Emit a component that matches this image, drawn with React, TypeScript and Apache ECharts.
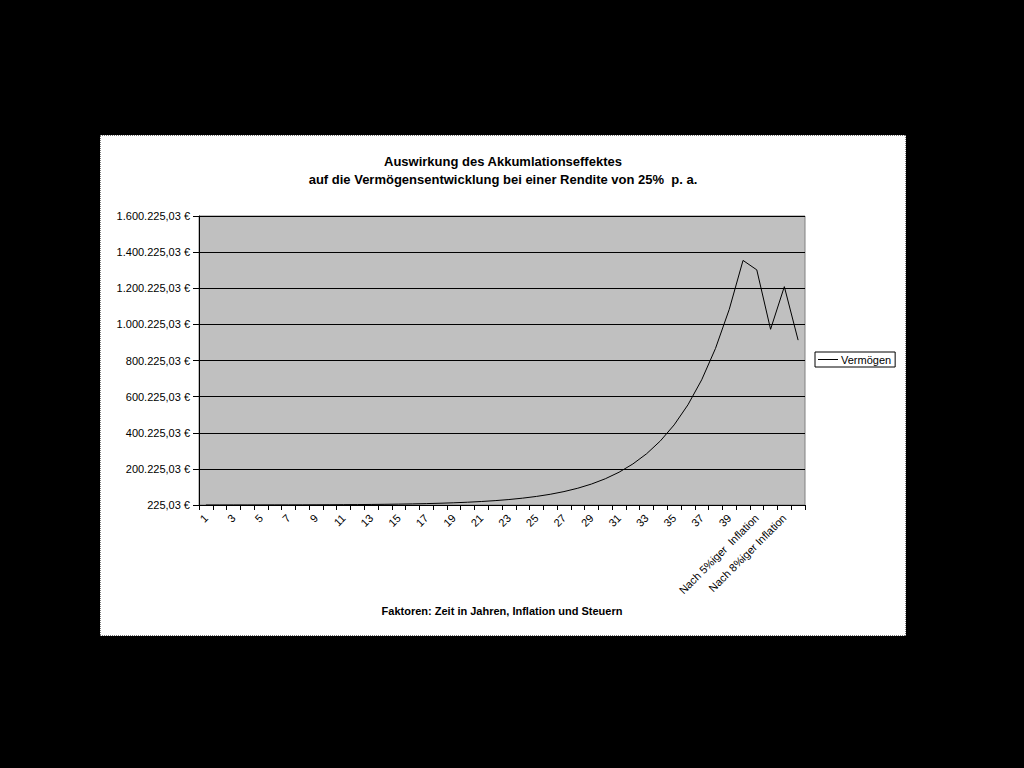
import React, { useEffect, useRef } from "react";
import * as echarts from "echarts";

const categories: string[] = [
  "1", "2", "3", "4", "5", "6", "7", "8", "9", "10",
  "11", "12", "13", "14", "15", "16", "17", "18", "19", "20",
  "21", "22", "23", "24", "25", "26", "27", "28", "29", "30",
  "31", "32", "33", "34", "35", "36", "37", "38", "39", "40",
  "Nach 5%iger  Inflation", "Nach Steuern (5%)", "Nach 8%iger Inflation", "Nach Steuern (8%)",
];

const vermoegen: number[] = [
  225.03, 281.29, 351.61, 439.51, 549.39, 686.74, 858.42, 1073.03, 1341.28, 1676.6,
  2095.75, 2619.69, 3274.61, 4093.26, 5116.58, 6395.72, 7994.65, 9993.32, 12491.65, 15614.56,
  19518.2, 24397.75, 30497.19, 38121.49, 47651.86, 59564.83, 74456.04, 93070.05, 116337.56, 145421.95,
  181777.44, 227221.8, 284027.25, 355034.06, 443792.58, 554740.72, 693425.9, 866782.38, 1083477.97, 1354347.46,
  1302000, 973000, 1209000, 913000,
];

const yMin = 225.03;
const yMax = 1600225.03;
const yStep = 200000;

function fmtEuro(v: number): string {
  const s = (Math.round(v * 100) / 100).toFixed(2);
  const [intPart, dec] = s.split(".");
  const withDots = intPart.replace(/\B(?=(\d{3})+(?!\d))/g, ".");
  return withDots + "," + dec + " €";
}

export default function App() {
  const ref = useRef<HTMLDivElement>(null);
  useEffect(() => {
    if (!ref.current) return;
    const chart = echarts.init(ref.current, undefined, { renderer: "svg" });
    const font = "'Liberation Sans', Arial, sans-serif";
    chart.setOption({
      animation: false,
      backgroundColor: "#000000",
      textStyle: { fontFamily: font },
      graphic: [
        {
          type: "rect",
          shape: { x: 100, y: 135, width: 806, height: 501 },
          style: { fill: "#ffffff", stroke: "#000000", lineWidth: 1, lineDash: [1, 1] },
          z: -10,
        },
        {
          type: "text",
          style: {
            text: "Auswirkung des Akkumlationseffektes\nauf die Vermögensentwicklung bei einer Rendite von 25%  p. a.",
            x: 503,
            y: 152,
            align: "center",
            verticalAlign: "top",
            font: "bold 13px 'Liberation Sans', Arial, sans-serif",
            lineHeight: 18,
            fill: "#000000",
          },
        },
        {
          type: "text",
          style: {
            text: "Faktoren: Zeit in Jahren, Inflation und Steuern",
            x: 502,
            y: 605,
            align: "center",
            verticalAlign: "top",
            font: "bold 11px 'Liberation Sans', Arial, sans-serif",
            fill: "#000000",
          },
        },
      ],
      legend: {
        show: true,
        left: 815,
        top: 352,
        orient: "vertical",
        backgroundColor: "#ffffff",
        borderColor: "#000000",
        borderWidth: 1,
        padding: [2, 4, 2, 3],
        itemWidth: 20,
        itemHeight: 1,
        itemGap: 2,
        icon: "rect",
        textStyle: { fontSize: 11, color: "#000000", fontFamily: font, padding: [0, 0, 0, -2] },
        data: ["Vermögen"],
      },
      grid: {
        left: 199,
        right: 219,
        top: 216,
        bottom: 263,
        show: true,
        backgroundColor: "#c0c0c0",
        borderColor: "#808080",
        borderWidth: 1,
      },
      xAxis: {
        type: "category",
        data: categories,
        boundaryGap: true,
        axisLine: { show: true, lineStyle: { color: "#000000", width: 1 } },
        axisTick: { show: true, length: 5, interval: 0, lineStyle: { color: "#000000" } },
        axisLabel: {
          interval: 1,
          rotate: 45,
          fontSize: 11,
          color: "#000000",
          fontFamily: font,
          margin: 11,
        },
        splitLine: { show: false },
      },
      yAxis: {
        type: "value",
        min: yMin,
        max: yMax,
        interval: yStep,
        axisLine: { show: true, lineStyle: { color: "#000000", width: 1 } },
        axisTick: { show: true, length: 6, lineStyle: { color: "#000000" } },
        axisLabel: {
          fontSize: 11,
          color: "#000000",
          fontFamily: font,
          margin: 9,
          formatter: (v: number) => fmtEuro(v),
        },
        splitLine: { show: true, lineStyle: { color: "#000000", width: 1 } },
      },
      series: [
        {
          name: "Vermögen",
          type: "line",
          data: vermoegen,
          showSymbol: false,
          symbol: "none",
          lineStyle: { color: "#000000", width: 1 },
          itemStyle: { color: "#000000" },
        },
      ],
    });
    return () => chart.dispose();
  }, []);
  return (
    <div
      ref={ref}
      style={{ position: "fixed", left: 0, top: 0, width: 1024, height: 768, background: "#000000" }}
    />
  );
}
